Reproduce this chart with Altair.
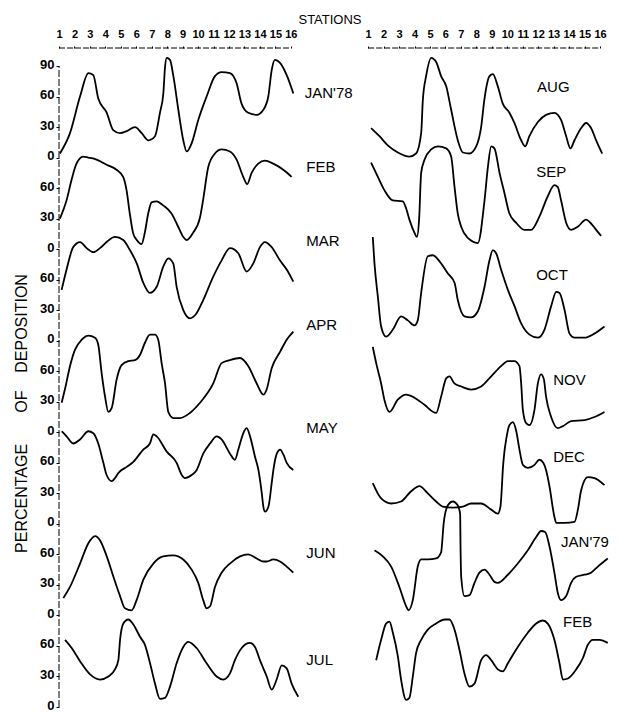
import altair as alt
import pandas as pd

# ---------------- data ----------------
station_ticks = list(range(1, 17))
right_shift = 20          # right-hand panel stations are drawn 20 units further right
band = 90                 # each month occupies a 90 % band
y_ticks = list(range(0, 631, 30))
y_top = 647.7

left_names = ["JAN'78", "FEB", "MAR", "APR", "MAY", "JUN", "JUL"]
right_names = ["AUG", "SEP", "OCT", "NOV", "DEC", "JAN'79", "FEB"]

jan78_x = [1.06,1.71,2.36,2.90,3.22,3.54,4.09,4.51,4.95,5.38,5.92,6.35,6.78,7.21,7.53,7.75,7.86,7.97,8.18,8.40,8.72,9.04,9.26,9.58,10.01,10.55,11.09,11.52,12.06,12.49,12.81,13.24,13.79,14.22,14.54,14.76,14.97,15.30,15.73,16.16]
jan78_v = [4,24,60,83,81,58,44,27,24,26,30,24,17,21,44,63,89,98,96,80,47,17,6,14,37,60,80,84,83,73,53,44,42,47,60,86,96,93,81,63]

feb78_x = [1.06,1.49,1.81,2.13,2.56,2.89,3.43,4.08,4.72,5.15,5.37,5.58,5.79,6.03,6.34,6.55,6.77,6.99,7.31,7.74,8.28,8.71,9.04,9.26,9.67,10.12,10.34,10.66,11.09,11.52,12.06,12.49,12.92,13.18,13.46,13.89,14.32,14.86,15.51,16.05]
feb78_v = [30,48,68,84,91,90,88,83,78,71,58,35,16,9,5,16,35,46,47,43,35,22,12,9,16,31,50,81,94,98,96,88,71,64,75,84,87,84,78,71]

mar78_x = [1.17,1.49,1.92,2.36,2.79,3.22,3.65,4.08,4.62,5.16,5.59,6.03,6.45,6.88,7.32,7.75,8.07,8.39,8.61,9.04,9.47,9.90,10.33,10.98,11.52,12.06,12.60,13.14,13.57,14.00,14.32,14.76,15.29,15.73,16.16]
mar78_v = [50,70,92,97,91,87,91,97,102,99,89,76,57,47,53,73,81,76,53,30,22,27,40,63,79,91,86,68,76,92,97,92,79,70,58]

apr78_x = [1.17,1.38,1.71,2.03,2.47,2.90,3.33,3.54,3.76,3.98,4.19,4.41,4.73,5.05,5.48,5.92,6.24,6.56,6.88,7.21,7.42,7.64,7.86,8.07,8.40,8.83,9.47,10.12,10.98,11.52,12.06,12.71,13.25,13.79,14.22,14.43,14.76,15.30,15.73,16.16]
apr78_v = [29,42,65,81,91,95,93,86,58,35,20,24,52,66,70,71,76,88,96,96,91,68,48,20,14,14,19,29,48,68,71,73,65,48,37,42,63,79,91,99]

may78_x = [1.17,1.49,1.92,2.36,2.90,3.22,3.54,3.87,4.08,4.41,4.62,4.84,5.38,5.81,6.45,6.88,7.10,7.32,7.97,8.61,8.94,9.15,9.58,9.91,10.33,10.77,11.20,11.52,12.06,12.38,12.60,12.92,13.14,13.36,13.68,13.90,14.12,14.22,14.33,14.55,14.76,14.87,15.09,15.30,15.52,15.73,16.16]
may78_v = [91,86,79,83,91,89,79,60,48,42,45,50,56,61,73,79,88,86,71,60,48,45,48,53,69,79,86,83,69,63,73,89,94,86,66,53,30,17,12,17,40,53,69,73,68,60,53]

jun78_x = [1.28,1.71,2.36,2.90,3.33,3.65,4.09,4.52,4.95,5.27,5.70,6.02,6.45,7.10,7.74,8.39,9.04,9.58,10.01,10.33,10.55,10.77,11.09,11.52,12.06,12.71,13.24,13.79,14.22,14.44,14.87,15.30,15.73,16.16]
jun78_v = [17,28,51,71,78,74,58,38,19,7,5,15,35,51,58,59,55,45,32,15,7,9,28,42,51,58,60,56,53,53,55,53,48,42]

jul78_x = [1.39,1.82,2.36,3.01,3.65,4.19,4.62,4.84,4.95,5.16,5.48,5.81,6.24,6.56,6.89,7.21,7.53,7.86,8.18,8.61,9.04,9.36,9.90,10.55,11.20,11.63,12.06,12.38,12.82,13.35,13.68,14.00,14.44,14.76,15.08,15.41,15.73,16.05,16.48]
jul78_v = [66,58,45,32,27,30,37,46,66,82,86,81,69,61,43,23,8,9,20,43,59,64,58,43,30,27,33,46,58,63,59,46,30,17,27,41,38,23,10]

aug78_x = [1.19,1.73,2.27,2.92,3.67,4.10,4.43,4.54,4.75,5.08,5.40,5.72,6.05,6.37,6.80,7.13,7.55,7.99,8.31,8.52,8.85,9.07,9.39,9.71,10.14,10.46,10.90,11.16,11.43,11.98,12.51,13.05,13.48,13.81,14.09,14.35,14.78,15.10,15.42,15.75,16.14]
aug78_v = [29,21,12,5,1,4,24,57,80,98,94,80,70,47,17,5,4,11,30,57,80,82,70,53,44,34,17,11,21,35,42,44,37,21,9,17,29,34,29,17,4]

sep78_x = [1.19,1.63,2.05,2.59,3.24,3.46,3.67,4.00,4.15,4.30,4.43,4.65,5.08,5.51,6.05,6.37,6.59,6.80,7.02,7.45,8.10,8.53,8.75,8.96,9.17,9.50,9.82,10.14,10.57,11.11,11.54,12.08,12.62,13.05,13.27,13.48,13.81,14.13,14.56,15.10,15.31,15.75,16.07]
sep78_v = [85,71,58,48,47,40,29,16,12,30,75,88,98,101,99,91,61,35,22,11,6,48,81,101,99,75,55,35,26,19,19,32,52,63,61,48,26,19,22,29,27,19,13]

oct78_x = [1.30,1.41,1.63,1.84,2.16,2.60,3.13,3.57,4.00,4.21,4.43,4.86,5.19,5.62,6.16,6.59,6.80,7.23,7.66,8.10,8.53,8.85,9.07,9.28,9.60,10.04,10.47,10.90,11.44,11.98,12.41,12.84,13.17,13.38,13.71,14.03,14.35,15.00,15.64,16.29]
oct78_v = [102,76,43,14,4,11,24,20,15,20,47,83,84,78,66,57,40,24,23,29,53,79,89,86,70,50,34,17,6,3,11,34,48,47,30,7,3,3,7,14]

nov78_x = [1.30,1.52,1.84,2.05,2.38,2.92,3.46,4.00,4.64,5.40,5.72,6.05,6.26,6.58,7.02,7.66,8.31,8.96,9.60,10.04,10.46,10.79,10.90,11.01,11.22,11.44,11.76,11.98,12.19,12.37,12.51,12.84,13.27,13.60,14.13,15.00,15.64,16.29]
nov78_v = [84,68,48,32,20,32,37,34,27,19,35,53,55,48,45,42,45,55,65,70,70,65,48,22,9,7,22,48,57,52,35,15,4,6,11,12,15,20]

dec78_x = [1.30,1.84,2.49,3.13,3.78,4.32,4.86,5.40,5.83,6.48,7.13,7.66,8.31,8.96,9.39,9.56,9.64,9.71,9.81,9.93,10.14,10.36,10.57,10.79,11.01,11.33,11.76,12.08,12.33,12.51,12.73,13.05,13.17,13.71,14.35,14.57,14.78,15.21,15.64,16.29]
dec78_v = [40,25,20,22,32,37,30,22,17,16,17,20,20,14,10,17,33,53,70,83,97,100,92,73,58,55,58,63,60,53,37,7,1,1,2,14,33,46,45,38]

jan79_x = [1.41,1.95,2.49,3.02,3.46,3.61,3.89,4.21,4.43,4.86,5.40,5.72,5.89,6.15,6.48,6.80,6.95,6.98,7.02,7.23,7.56,7.88,8.20,8.53,8.85,9.17,9.39,10.04,10.68,11.33,11.87,12.19,12.45,12.73,13.05,13.27,13.48,13.81,14.13,14.46,15.00,15.42,15.86,16.50]
jan79_v = [64,58,48,28,9,5,15,48,55,55,56,62,91,108,112,108,100,64,38,19,20,32,42,45,40,33,32,40,51,64,77,83,82,68,42,22,15,19,32,38,40,42,48,56]

feb79_x = [1.52,1.84,2.16,2.38,2.60,2.92,3.13,3.46,3.67,3.89,4.10,4.43,4.86,5.40,5.94,6.26,6.59,6.91,7.23,7.56,7.88,8.31,8.64,8.96,9.39,9.71,10.04,10.68,11.33,11.87,12.30,12.62,13.05,13.38,13.60,13.92,14.46,14.89,15.21,15.54,15.97,16.50]
feb79_v = [46,66,82,84,73,50,27,7,9,30,53,66,76,82,86,86,76,56,33,20,23,46,51,46,37,35,43,59,73,82,85,82,66,43,27,28,37,48,61,66,66,63]

# month label anchors (station, percentage within the month's band)
left_label_x = [16.9, 17.0, 17.0, 17.0, 17.0, 17.0, 17.0]
left_label_v = [63.5, 80.7, 98.0, 105.5, 94.2, 61.4, 46.2]
right_label_x = [11.93, 11.87, 11.87, 12.97, 12.97, 13.48, 13.61]
right_label_v = [69.4, 75.9, 64.6, 51.4, 65.7, 72.2, 83.6]

left_series = [(jan78_x, jan78_v), (feb78_x, feb78_v), (mar78_x, mar78_v), (apr78_x, apr78_v),
               (may78_x, may78_v), (jun78_x, jun78_v), (jul78_x, jul78_v)]
right_series = [(aug78_x, aug78_v), (sep78_x, sep78_v), (oct78_x, oct78_v), (nov78_x, nov78_v),
                (dec78_x, dec78_v), (jan79_x, jan79_v), (feb79_x, feb79_v)]

# ---------------- build tables ----------------
rows, labels = [], []
for panel, series, names, lx, lv, shift in [
    ("L", left_series, left_names, left_label_x, left_label_v, 0),
    ("R", right_series, right_names, right_label_x, right_label_v, right_shift),
]:
    for i, ((xs, vs), name) in enumerate(zip(series, names)):
        off = band * (6 - i)
        for x, v in zip(xs, vs):
            rows.append({"series": f"{panel}{i}", "x": x + shift, "y": v + off})
        labels.append({"name": name, "x": lx[i] + shift, "y": lv[i] + off})

curves = pd.DataFrame(rows)
label_df = pd.DataFrame(labels)
brackets = pd.DataFrame({"x": [station_ticks[0], station_ticks[0] + right_shift],
                         "x2": [station_ticks[-1], station_ticks[-1] + right_shift],
                         "y": [y_top, y_top]})
yline = pd.DataFrame({"x": [station_ticks[0]], "y": [y_ticks[0]], "y2": [y_ticks[-1]]})

FONT = "Liberation Sans"
xscale = alt.Scale(domain=[1, 36], nice=False, zero=False)
yscale = alt.Scale(domain=[0, y_top], nice=False, zero=False)

x_ticks = station_ticks + [s + right_shift for s in station_ticks]

x_axis = alt.Axis(
    orient="top", values=x_ticks, title="STATIONS",
    labelExpr=f"datum.value > 16 ? datum.value - {right_shift} : datum.value",
    grid=False, domain=False, tickSize=2, tickColor="black",
    labelFont=FONT, labelFontSize=11, labelFontWeight="bold", labelColor="black",
    labelPadding=7, labelFlush=False, labelOverlap=False, labelBound=False,
    titleFont=FONT, titleFontSize=13, titleFontWeight="normal", titleColor="black",
    titlePadding=2)

y_axis = alt.Axis(
    values=y_ticks,
    labelExpr="datum.value == 630 ? '90' : '' + (datum.value % 90)",
    grid=False, domain=False, tickSize=3, tickColor="black",
    labelFont=FONT, labelFontSize=13, labelFontWeight="bold", labelColor="black",
    labelPadding=2, labelOverlap=False, labelFlush=False, labelBound=False,
    labelOffset=-2,
    title="PERCENTAGE\u00a0\u00a0\u00a0\u00a0\u00a0\u00a0 OF \u00a0\u00a0\u00a0DEPOSITION",
    titleFont=FONT, titleFontSize=16, titleFontWeight="normal", titleColor="black",
    titleAngle=270, titleX=-38, titleY=365, titleAlign="center", titleBaseline="middle")

X = lambda f: alt.X(f, type="quantitative", scale=xscale, axis=x_axis)
Y = lambda f: alt.Y(f, type="quantitative", scale=yscale, axis=y_axis)

lines = alt.Chart(curves).mark_line(
    interpolate="monotone", color="black", strokeWidth=1.8, clip=False
).encode(x=X("x"), y=Y("y"), detail="series:N")

bracket = alt.Chart(brackets).mark_rule(color="black", strokeWidth=1, strokeDash=[6, 2]).encode(
    x=X("x"), x2="x2:Q", y=Y("y")
)

axis_line = alt.Chart(yline).mark_rule(color="black", strokeWidth=1, strokeDash=[7, 2]).encode(
    x=X("x"), y=Y("y"), y2="y2:Q"
)

text = alt.Chart(label_df).mark_text(
    align="left", baseline="middle", font=FONT, fontSize=15, color="black"
).encode(x=X("x"), y=Y("y"), text="name:N")

chart = alt.layer(lines, axis_line, bracket, text).properties(
    width=541, height=659,
    autosize=alt.AutoSizeParams(type="none"),
    padding={"left": 51, "top": 40, "right": 31, "bottom": 5},
    background="white",
).configure_view(strokeWidth=0)

chart.save("out.html", embed_options={"renderer": "svg", "actions": False})
